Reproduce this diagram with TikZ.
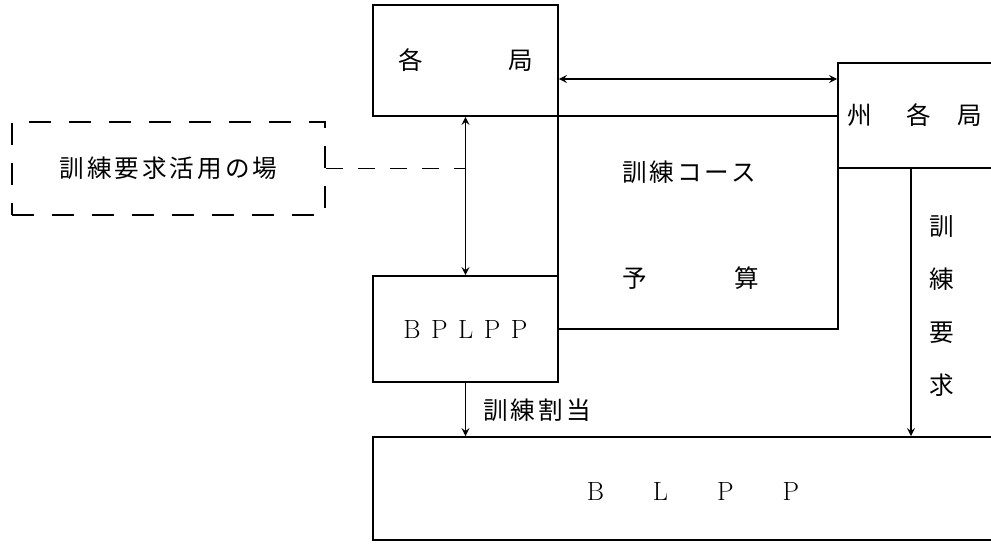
\documentclass[tikz,border=0pt]{standalone}
\usepackage{fontspec}
\newfontfamily\jp[LetterSpace=12]{Noto Sans CJK JP}
\usepackage{tikz}

\begin{document}
\begin{tikzpicture}[x=0.02cm,y=-0.02cm,>=stealth,line width=1pt,
    box/.style={rectangle,draw,inner sep=0pt},
    txt/.style={inner sep=0pt,font=\fontsize{14}{17}\selectfont\jp},
    lat/.style={inner sep=0pt,font=\fontsize{15}{17}\selectfont}]
    \clip (0,0) rectangle (991,544);

    % Course and budget area
    \node[box,minimum width=5.6cm,minimum height=4.26cm] (course) at (698,222.5) {};
    \node[txt] (coursetxt) at (689,172) {訓練コース};
    \node[txt] (budget) at (690.5,278) {予\hspace{1.75cm}算};

    % Boxes
    \node[box,txt,minimum width=3.7cm,minimum height=2.22cm] (kaku) at (465.5,60.5)
        {各\hspace{1.71cm}局};
    \node[box,txt,minimum width=3.08cm,minimum height=2.1cm] (shuu) at (915,115.5)
        {州\hspace{0.68cm}各\hspace{0.54cm}局};
    \node[box,lat,minimum width=3.7cm,minimum height=2.12cm] (bplpp) at (465.5,329)
        {B\hspace{2.1mm}P\hspace{2.1mm}L\hspace{2.1mm}P\hspace{2.1mm}P};
    \node[box,minimum width=12.46cm,minimum height=2.06cm] (blpp) at (684.5,488.5) {};
    \node[lat] (blpptxt) at (693,491) {B\hspace{0.98cm}L\hspace{0.98cm}P\hspace{0.98cm}P};
    \node[box,txt,dash pattern=on 0.44cm off 0.36cm,minimum width=6.26cm,minimum height=1.86cm]
        (ba) at (168.5,168.5) {訓練要求活用の場};

    % Connectors
    \draw[<->] (kaku.east |- 0,79) -- (shuu.west |- 0,79);
    \draw[<->] (kaku.south) -- (bplpp.north);
    \draw[dash pattern=on 0.34cm off 0.3cm] (ba.east) -- (kaku.south |- ba.east);
    \draw[->] ([xshift=-0.08cm]shuu.south) -- ([xshift=-0.08cm]shuu.south |- blpp.north);
    \draw[->] (bplpp.south) -- (bplpp.south |- blpp.north);

    % Labels
    \node[txt,align=center,font=\fontsize{14}{30}\selectfont\jp] (demand) at (942,306)
        {訓\\練\\要\\求};
    \node[txt] (alloc) at (537,410) {訓練割当};
\end{tikzpicture}
\end{document}
